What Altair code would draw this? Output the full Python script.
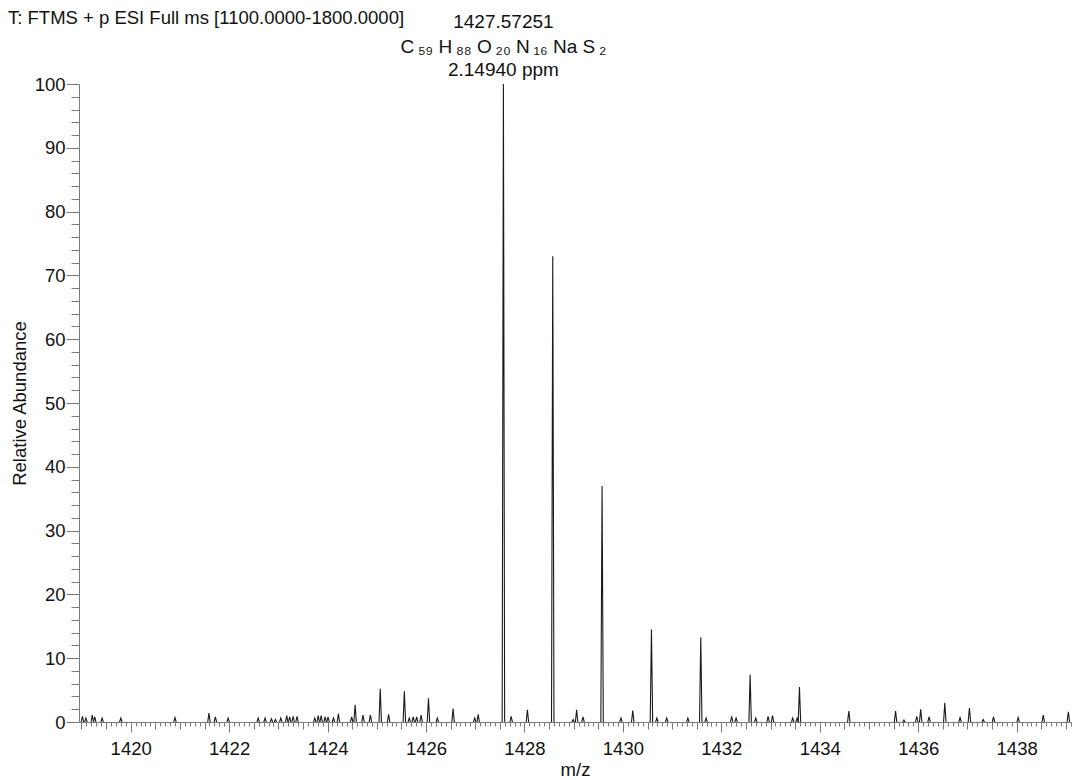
import altair as alt
import numpy as np
import pandas as pd

# ---- data ----
peak_mz = [1419.02, 1419.09, 1419.22, 1419.27, 1419.42, 1419.80, 1420.90, 1421.59, 1421.72, 1421.98,
           1422.59, 1422.73, 1422.86, 1422.94, 1423.05, 1423.17, 1423.23, 1423.30, 1423.38, 1423.74,
           1423.81, 1423.87, 1423.95, 1424.01, 1424.12, 1424.22, 1424.49, 1424.56, 1424.72, 1424.87,
           1425.07, 1425.24, 1425.56, 1425.66, 1425.74, 1425.81, 1425.90, 1426.05, 1426.23, 1426.55,
           1426.99, 1427.06, 1427.5725, 1427.73, 1428.06, 1428.575, 1428.99, 1429.06, 1429.19, 1429.577,
           1429.96, 1430.20, 1430.58, 1430.69, 1430.89, 1431.32, 1431.582, 1431.69, 1432.21, 1432.30,
           1432.585, 1432.70, 1432.95, 1433.04, 1433.45, 1433.54, 1433.587, 1434.59, 1435.54, 1435.71,
           1435.97, 1436.05, 1436.22, 1436.54, 1436.85, 1437.04, 1437.32, 1437.53, 1438.03, 1438.54,
           1439.05, 1439.16]
peak_ab = [0.9, 0.6, 1.1, 0.8, 0.6, 0.6, 0.7, 1.4, 0.8, 0.6,
           0.6, 0.6, 0.5, 0.4, 0.6, 1.0, 0.8, 0.9, 0.9, 0.6,
           1.0, 1.0, 0.8, 0.8, 0.6, 1.3, 0.8, 2.7, 1.1, 1.1,
           5.2, 1.2, 4.8, 0.6, 0.8, 0.8, 1.1, 3.7, 0.6, 2.1,
           0.6, 1.2, 100.0, 0.9, 1.9, 73.0, 0.4, 1.9, 0.8, 37.0,
           0.6, 1.8, 14.5, 0.6, 0.6, 0.6, 13.3, 0.6, 0.9, 0.6,
           7.4, 0.6, 0.9, 1.0, 0.6, 0.6, 5.5, 1.7, 1.7, 0.3,
           0.9, 2.0, 0.8, 3.0, 0.7, 2.2, 0.4, 0.8, 0.7, 1.1,
           1.6, 0.8]

header_text = ["T: FTMS + p ESI Full ms [1100.0000-1800.0000]"]
annot_mz = [1427.57251]
annot_mass = ["1427.57251"]
annot_formula = ["C\u2009\u2085\u2089 H\u2009\u2088\u2088 O\u2009\u2082\u2080 N\u2009\u2081\u2086 Na S\u2009\u2082"]
annot_ppm = ["2.14940 ppm"]

x_domain = [1418.95, 1439.104]
x_major = [1420, 1422, 1424, 1426, 1428, 1430, 1432, 1434, 1436, 1438]
x_mid = [v for v in np.round(np.arange(1419.0, 1439.11, 0.5), 1).tolist() if v % 2 != 0]
x_minor = [v for v in np.round(np.arange(1419.0, 1439.11, 0.1), 1).tolist() if abs(v * 2 - round(v * 2)) > 1e-6]
y_major = list(range(0, 101, 10))
y_minor = [v for v in range(0, 101, 2) if v % 10 != 0]

# ---- build the profile table: each peak drawn as a narrow spike ----
HALF = 0.025
rows = []
for i, (m, h) in enumerate(zip(peak_mz, peak_ab)):
    rows.append({"pk": i, "mz": m - HALF, "ab": 0.0})
    rows.append({"pk": i, "mz": m, "ab": h})
    rows.append({"pk": i, "mz": m + HALF, "ab": 0.0})
df = pd.DataFrame(rows)
ann = pd.DataFrame({"mz": annot_mz, "mass": annot_mass, "formula": annot_formula, "ppm": annot_ppm})
hdr = pd.DataFrame({"t": header_text})

FONT = "Liberation Sans"
AX = "#7a7a7a"
xs = alt.Scale(domain=x_domain, nice=False, zero=False)
ys = alt.Scale(domain=[0, 100], nice=False, zero=True)

spec = alt.Chart(df).mark_line(color="#1a1a1a", strokeWidth=1.1, clip=True).encode(
    x=alt.X("mz:Q", scale=xs, axis=alt.Axis(
        values=x_major, format="d", tickSize=10, labelPadding=7, title="m/z", titlePadding=3,
        grid=False, domainColor=AX, tickColor=AX, labelColor="#111", titleColor="#111",
        labelFontSize=18.5, titleFontSize=18.5, titleFontWeight="normal", labelFont=FONT,
        titleFont=FONT, orient="bottom", zindex=1, labelFlush=False, labelOverlap=False)),
    y=alt.Y("ab:Q", scale=ys, axis=alt.Axis(
        values=y_major, tickSize=13, labelPadding=1, title="Relative Abundance", titlePadding=5,
        grid=False, domainColor=AX, tickColor=AX, labelColor="#111", titleColor="#111",
        labelFontSize=18.5, titleFontSize=18.5, titleFontWeight="normal", labelFont=FONT,
        titleFont=FONT, orient="left", zindex=1, labelFlush=False, labelOverlap=False)),
    detail="pk:N",
)

mid = alt.Chart(df).mark_line(strokeOpacity=0).encode(
    x=alt.X("mz:Q", scale=xs, axis=alt.Axis(
        values=x_mid, tickSize=7, labels=False, domain=False, title=None, grid=False,
        orient="bottom", tickColor=AX, zindex=1)),
    y=alt.Y("ab:Q", scale=ys, axis=alt.Axis(
        values=y_minor, tickSize=8, labels=False, domain=False, title=None, grid=False,
        orient="left", tickColor=AX, zindex=1)),
    detail="pk:N",
)

minor = alt.Chart(df).mark_line(strokeOpacity=0).encode(
    x=alt.X("mz:Q", scale=xs, axis=alt.Axis(
        values=x_minor, tickSize=4, labels=False, domain=False, title=None, grid=False,
        orient="bottom", tickColor=AX, zindex=1)),
    y=alt.Y("ab:Q", scale=ys, axis=None),
    detail="pk:N",
)

txt = dict(font=FONT, fontSize=19, color="#111", align="center", baseline="alphabetic")
t_mass = alt.Chart(ann).mark_text(**txt).encode(
    x=alt.X("mz:Q", scale=xs, axis=None), y=alt.value(-56), text="mass:N")
t_form = alt.Chart(ann).mark_text(**txt).encode(
    x=alt.X("mz:Q", scale=xs, axis=None), y=alt.value(-31), text="formula:N")
t_ppm = alt.Chart(ann).mark_text(**txt).encode(
    x=alt.X("mz:Q", scale=xs, axis=None), y=alt.value(-8), text="ppm:N")
t_hdr = alt.Chart(hdr).mark_text(font=FONT, fontSize=18.5, color="#111", align="left",
                                 baseline="alphabetic").encode(
    x=alt.value(-71), y=alt.value(-60), text="t:N")

chart = alt.layer(spec, mid, minor, t_mass, t_form, t_ppm, t_hdr).resolve_axis(
    x="independent", y="independent"
).properties(
    width=992, height=638,
    autosize=alt.AutoSizeParams(type="none"),
    padding={"left": 71, "top": 76, "right": 2, "bottom": 58},
).configure_view(stroke=None)

chart.save("out.html", embed_options={"renderer": "svg", "actions": False})
